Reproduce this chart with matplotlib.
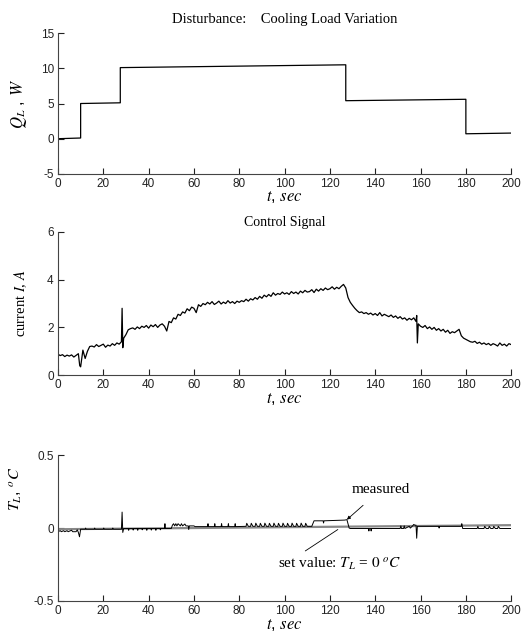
import numpy as np
import matplotlib.pyplot as plt

plt.rcParams['mathtext.fontset'] = 'stix'
plt.rcParams['font.family'] = 'Liberation Sans'
plt.rcParams['axes.unicode_minus'] = False

SERIF = 'Liberation Serif'

# Disturbance: cooling load steps
load_t = [0, 10, 10, 27.5, 27.5, 127, 127, 180, 180, 200]
load_q = [0, 0.1, 5.0, 5.1, 10.1, 10.5, 5.4, 5.6, 0.7, 0.8]

# Control signal, sampled every second (t = 0..200)
current_t = np.arange(0, 201)
current_a = [
    0.88, 0.82, 0.86, 0.78, 0.84, 0.80, 0.85, 0.76, 0.83,            # 0-8
    0.90, 0.35, 1.05, 0.70, 1.00, 1.20,                                # 9-14
    1.22, 1.18, 1.28, 1.20, 1.25, 1.30, 1.17, 1.26, 1.22, 1.32, 1.25, 1.35, 1.30,  # 15-27
    1.40, 1.55, 1.70, 1.90, 1.95,                                      # 28-32
    1.98, 1.92, 2.02, 1.95, 2.05, 2.00, 2.08, 1.97, 2.10, 2.03, 2.12, 2.00, 2.10, 2.15, 2.05,  # 33-47
    1.85, 2.25, 2.20, 2.40, 2.35, 2.55, 2.50, 2.65, 2.60, 2.78, 2.70, 2.85, 2.80, 2.62, 2.95, 2.88,  # 48-63
    3.00, 2.95, 3.05, 2.98, 3.08, 2.96, 3.02, 3.10, 2.98, 3.06, 3.00, 3.12, 3.02, 3.08, 3.00, 3.10, 3.05,  # 64-80
    3.12, 3.08, 3.18, 3.10, 3.20, 3.15, 3.25, 3.18, 3.30, 3.22,
    3.35, 3.28, 3.38, 3.30, 3.45, 3.35, 3.42, 3.38, 3.48, 3.40,      # 81-100
    3.45, 3.38, 3.50, 3.42, 3.48, 3.40, 3.52, 3.45, 3.55, 3.48,
    3.50, 3.58, 3.46, 3.60, 3.52, 3.62, 3.55, 3.65, 3.58, 3.62,
    3.70, 3.60, 3.68, 3.62, 3.72, 3.80,                                # 101-126
    3.65, 3.25, 3.05, 2.92, 2.80, 2.70, 2.62, 2.65, 2.58,            # 127-135
    2.62, 2.55, 2.60, 2.52, 2.58, 2.50, 2.62, 2.48, 2.55, 2.50, 2.45,
    2.52, 2.42, 2.48, 2.38, 2.45, 2.35, 2.40, 2.30, 2.38, 2.32, 2.40,  # 136-157
    2.25, 2.15, 2.05,                                                  # 158-160
    2.00, 2.08, 1.95, 2.02, 1.92, 2.00, 1.88, 1.95, 1.85, 1.92, 1.80, 1.88, 1.75, 1.82, 1.78, 1.85, 1.92,  # 161-177
    1.65, 1.55, 1.50, 1.45, 1.40, 1.38, 1.42, 1.33, 1.38, 1.30, 1.35, 1.28,
    1.33, 1.25, 1.32, 1.28, 1.22, 1.35, 1.25, 1.30, 1.22, 1.32, 1.28,  # 178-200
]
# short spikes between samples
spike_t = [9.6, 28.3, 28.6, 158.3, 158.6]
spike_a = [0.40, 2.80, 1.15, 2.50, 1.35]

# Load temperature, measured trace
meas_t = [0, 1, 1.5, 2.5, 3, 4, 4.5, 6, 6.5, 8, 8.5, 9, 9.5, 10,
          12, 12.2, 12.4, 16, 16.2, 16.4, 20, 20.2, 20.4, 24, 24.2, 24.4,
          28, 28.3, 28.6, 29,
          31, 31.2, 31.4, 33, 33.2, 33.4, 35, 35.2, 35.4, 37, 37.2, 37.4,
          39, 39.2, 39.4, 41, 41.2, 41.4, 43, 43.2, 43.4, 45, 45.2, 45.4,
          47, 47.2, 47.4, 50, 50.5,
          51, 51.5, 52, 52.5, 53, 54, 54.5, 55, 56, 56.5, 57.5, 57.7, 58, 60, 60.5,
          66, 66.2, 66.4, 69, 69.2, 69.4, 72, 72.2, 72.4, 75, 75.2, 75.4, 78, 78.2, 78.4,
          83, 83.3, 84, 85, 85.3, 86, 87, 87.3, 88, 89, 89.3, 90, 91, 91.3, 92,
          93, 93.3, 94, 95, 95.3, 96, 97, 97.3, 98, 99, 99.3, 100, 101, 101.3, 102,
          103, 103.3, 104, 105, 105.3, 106, 107, 107.3, 108, 109, 109.3, 110, 112,
          113, 117, 117.2, 117.4, 126.5, 127.5, 128.5, 129, 130,
          137, 137.2, 137.4, 138, 138.2, 138.4,
          151, 151.3, 151.6, 152.5, 152.8, 153.1, 155, 155.5, 156.5, 157, 157.5, 158, 158.3, 158.6, 159,
          168, 168.2, 168.4, 178, 178.2, 178.6,
          185, 185.3, 185.6, 188, 188.3, 189, 190, 190.3, 191, 192, 192.3, 193, 194, 194.3, 195, 200]
meas_T = [-0.025, -0.018, -0.025, -0.018, -0.025, -0.018, -0.025, -0.015, -0.025, -0.025, -0.012, -0.03, -0.06, -0.008,
          -0.008, 0.0, -0.008, -0.008, 0.0, -0.008, -0.008, 0.0, -0.008, -0.008, 0.0, -0.008,
          -0.008, 0.11, -0.03, -0.003,
          -0.003, -0.015, -0.003, -0.003, -0.014, -0.003, -0.003, -0.015, -0.003, -0.003, -0.012, -0.003,
          -0.003, -0.015, -0.003, -0.003, -0.014, -0.003, -0.003, -0.015, -0.003, -0.003, -0.012, -0.003,
          -0.003, 0.03, -0.003, -0.003, 0.02,
          0.03, 0.015, 0.03, 0.015, 0.03, 0.015, 0.03, 0.015, 0.028, 0.015, 0.015, -0.01, 0.015, 0.015, 0.01,
          0.01, 0.03, 0.01, 0.01, 0.03, 0.01, 0.01, 0.03, 0.01, 0.01, 0.03, 0.01, 0.01, 0.03, 0.01,
          0.012, 0.033, 0.012, 0.012, 0.033, 0.012, 0.012, 0.034, 0.012, 0.012, 0.033, 0.012, 0.012, 0.034, 0.012,
          0.012, 0.033, 0.012, 0.012, 0.034, 0.012, 0.012, 0.033, 0.012, 0.012, 0.034, 0.012, 0.012, 0.033, 0.012,
          0.012, 0.034, 0.012, 0.012, 0.033, 0.012, 0.012, 0.034, 0.012, 0.012, 0.033, 0.012, 0.012,
          0.05, 0.05, 0.035, 0.05, 0.055, 0.058, 0.0, -0.003, -0.003,
          -0.003, -0.02, -0.003, -0.003, -0.02, -0.003,
          -0.003, 0.015, -0.003, -0.003, 0.015, -0.003, 0.012, 0.0, 0.015, 0.025, 0.02, 0.02, -0.07, 0.012, 0.012,
          0.012, 0.0, 0.012, 0.012, 0.03, -0.003,
          -0.003, 0.012, -0.003, -0.003, 0.012, -0.003, -0.003, 0.012, -0.003, -0.003, 0.012, -0.003, -0.003, 0.012, -0.003, -0.003]
setpoint_t = [0, 200]
setpoint_T = [-0.008, 0.02]

x_ticks = np.arange(0, 201, 20)


def style_axes(ax, yticks, xlabelpad):
    ax.spines['top'].set_visible(False)
    ax.spines['right'].set_visible(False)
    for side in ['left', 'bottom']:
        ax.spines[side].set_color('#444444')
        ax.spines[side].set_linewidth(0.8)
    ax.set_xlim(0, 200)
    ax.set_xticks(x_ticks)
    ax.set_yticks(yticks)
    ax.tick_params(direction='in', length=4, width=0.8, labelsize=8.5, colors='#222222', pad=3)
    ax.set_xlabel('$t$, $sec$', fontsize=12, labelpad=xlabelpad)


fig = plt.figure(figsize=(5.27, 6.37), dpi=100)
ax1 = fig.add_axes([0.110, 0.727, 0.860, 0.221])
ax2 = fig.add_axes([0.110, 0.411, 0.860, 0.225])
ax3 = fig.add_axes([0.110, 0.057, 0.860, 0.228])

# top: disturbance
ax1.plot(load_t, load_q, color='black', lw=0.9)
ax1.set_ylim(-5, 15)
style_axes(ax1, [-5, 0, 5, 10, 15], -1)
ax1.set_title('Disturbance:    Cooling Load Variation', family=SERIF, fontsize=10.5, pad=7)
ax1.set_ylabel('$Q_L$ , $W$', fontsize=12, labelpad=8)

# middle: control signal
ct = np.concatenate([current_t, spike_t])
ca = np.concatenate([current_a, spike_a])
order = np.argsort(ct, kind='stable')
ax2.plot(ct[order], ca[order], color='black', lw=0.9)
ax2.set_ylim(0, 6)
style_axes(ax2, [0, 2, 4, 6], 0)
ax2.set_title('Control Signal', family=SERIF, fontsize=10, pad=4)
ax2.set_ylabel(r'current $I$, $A$', family=SERIF, fontsize=10.5, labelpad=13)

# bottom: load temperature
ax3.plot(setpoint_t, setpoint_T, color='#888888', lw=1.6)
ax3.plot(meas_t, meas_T, color='black', lw=0.7)
ax3.set_ylim(-0.5, 0.5)
style_axes(ax3, [-0.5, 0, 0.5], 0)
ax3.set_yticklabels(['-0.5', '0', '0.5'])
ax3.set_ylabel(r'$T_L$, $^oC$', fontsize=11.5)
ax3.yaxis.set_label_coords(-0.075, 0.77)
ax3.annotate('measured', xy=(127.5, 0.058), xytext=(142.5, 0.265),
             ha='center', va='center', family=SERIF, fontsize=11,
             arrowprops=dict(arrowstyle='-|>', color='black', lw=0.6,
                             mutation_scale=5, shrinkA=7, shrinkB=0))
ax3.annotate(r'set value: $T_L$ = $0\ ^oC$', xy=(123.5, -0.01), xytext=(97, -0.245),
             ha='left', va='center', family=SERIF, fontsize=11,
             arrowprops=dict(arrowstyle='-', color='black', lw=0.6,
                             relpos=(0.17, 1.0), shrinkA=2, shrinkB=0))

fig.savefig('out.png', dpi=100)
